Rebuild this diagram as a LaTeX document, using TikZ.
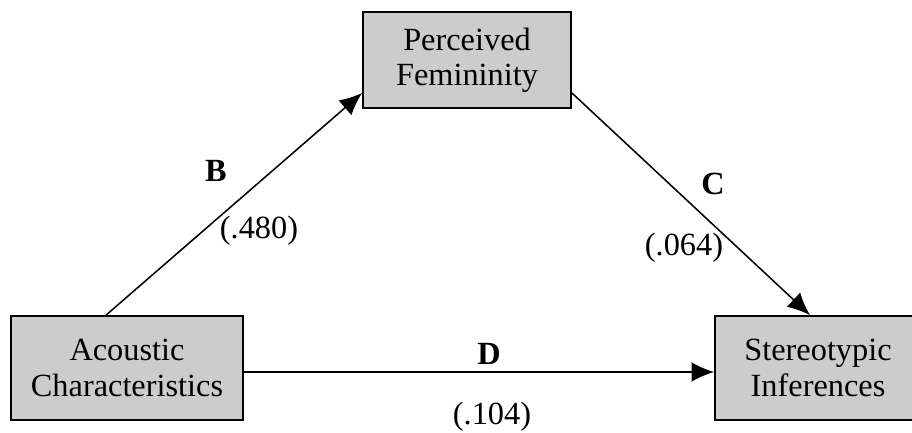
\documentclass[tikz,border=0pt]{standalone}
\usepackage{fontspec}
\setmainfont{Liberation Serif}
\usepackage{tikz}
\usetikzlibrary{positioning, arrows.meta}

\begin{document}
\begin{tikzpicture}[
  x=0.025cm, y=-0.025cm,
  varbox/.style={draw, line width=1.3pt, fill=black!20, inner sep=0pt, align=center,
    font=\fontsize{23}{25}\selectfont},
  pathlabel/.style={font=\fontsize{23}{25}\selectfont\bfseries},
  coeflabel/.style={font=\fontsize{23}{25}\selectfont},
  arrow/.style={-{Latex[length=16pt, width=14pt]}, line width=1.1pt},
]
  \useasboundingbox (0,0) rectangle (912,433);

  % Variables
  \node (acoustic) [varbox, minimum width=5.8cm, minimum height=2.6cm] at (127,368) {Acoustic\\Characteristics};
  \node (perceived) [varbox, minimum width=5.2cm, minimum height=2.4cm] at (467,60) {Perceived\\Femininity};
  \node (stereo) [varbox, minimum width=5.15cm, minimum height=2.6cm] at (818,368) {Stereotypic\\Inferences};

  % Paths
  \draw [arrow] ([xshift=2.4cm]acoustic.north west) -- ([yshift=-0.825cm]perceived.west);
  \draw [arrow] ([yshift=-0.825cm]perceived.east) -- ([xshift=-0.2cm]stereo.north);
  \draw [arrow] ([yshift=-0.1cm]acoustic.east) -- ([yshift=-0.1cm]stereo.west);

  % Labels
  \node (labB) [pathlabel] at (216,171) {B};
  \node (coefB) [coeflabel] at (259,231) {(.480)};
  \node (labC) [pathlabel] at (713,184) {C};
  \node (coefC) [coeflabel] at (684,248) {(.064)};
  \node (labD) [pathlabel] at (489,354) {D};
  \node (coefD) [coeflabel] at (492,417) {(.104)};

\end{tikzpicture}
\end{document}
